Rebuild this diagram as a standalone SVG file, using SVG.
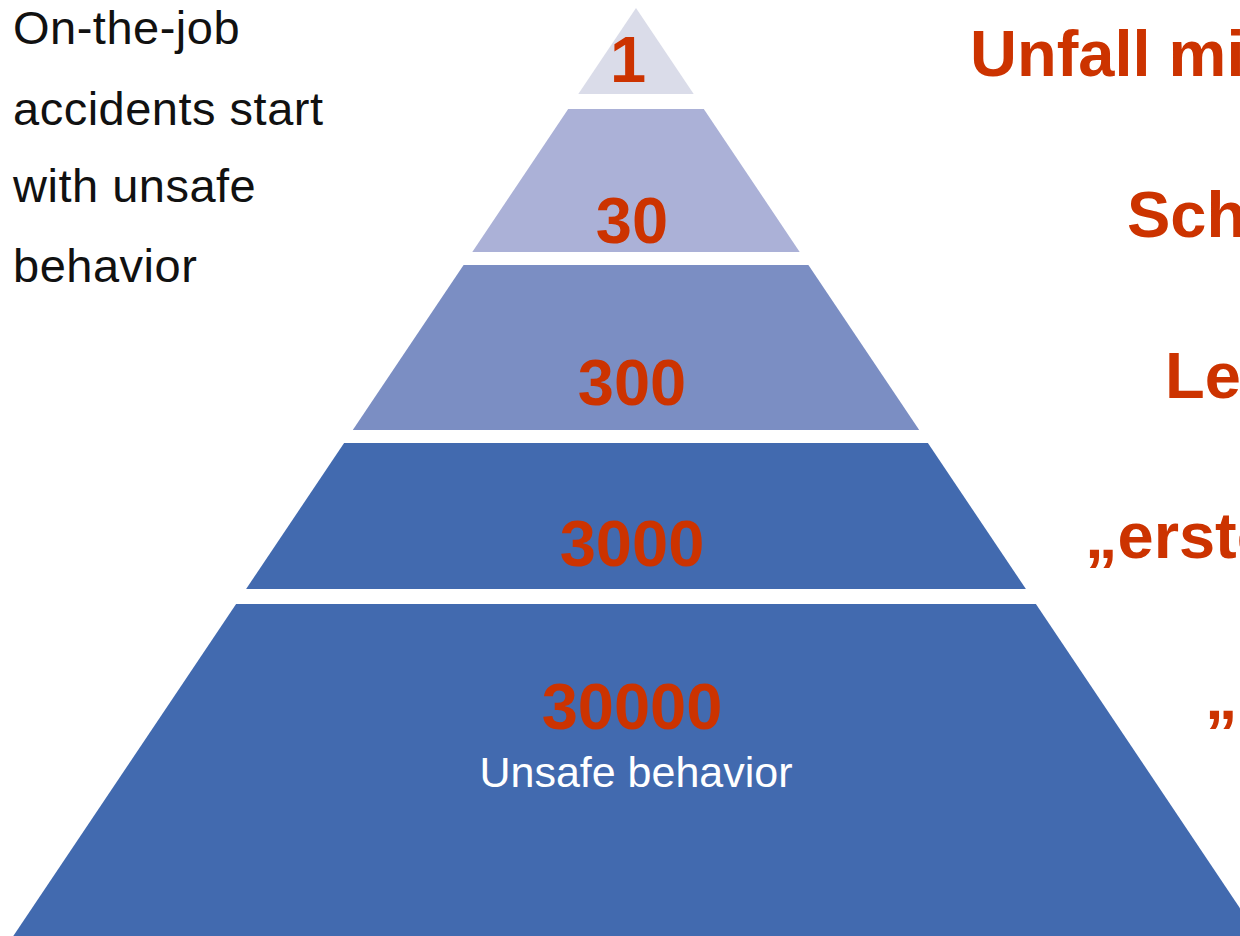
<svg xmlns="http://www.w3.org/2000/svg" width="1240" height="936" viewBox="0 0 1240 936">
  <style>
    .num { font-family: "Liberation Sans", Arial, sans-serif; font-weight: bold; font-size: 65px; fill: #cc3300; text-anchor: middle; }
    .lbl { font-family: "Liberation Sans", Arial, sans-serif; font-weight: bold; font-size: 65px; fill: #cc3300; }
    .note { font-family: "Liberation Sans", Arial, sans-serif; font-size: 47px; letter-spacing: 0.5px; fill: #111111; }
    .sub { font-family: "Liberation Sans", Arial, sans-serif; font-size: 43px; fill: #ffffff; text-anchor: middle; }
  </style>
  <rect width="1240" height="936" fill="#ffffff"/>

  <!-- caption on the left -->
  <g id="caption">
    <text class="note" x="13" y="44">On-the-job</text>
    <text class="note" x="13" y="125">accidents start</text>
    <text class="note" x="13" y="202">with unsafe</text>
    <text class="note" x="13" y="282">behavior</text>
  </g>

  <!-- pyramid tiers, top to bottom -->
  <g id="tier-1">
    <polygon points="636,8 693.7,94 578.3,94" fill="#dadce9"/>
    <text class="num" x="628" y="82">1</text>
  </g>
  <g id="tier-2">
    <polygon points="568.2,109 703.8,109 799.7,252 472.3,252" fill="#abb1d7"/>
    <text class="num" x="632" y="243">30</text>
  </g>
  <g id="tier-3">
    <polygon points="463.6,265 808.4,265 919.2,430 352.8,430" fill="#7b8ec3"/>
    <text class="num" x="632" y="405">300</text>
  </g>
  <g id="tier-4">
    <polygon points="344.1,443 927.9,443 1025.9,589 246.1,589" fill="#426aaf"/>
    <text class="num" x="632" y="566">3000</text>
  </g>
  <g id="tier-5">
    <polygon points="236.1,604 1035.9,604 1258.7,936 13.3,936" fill="#426aaf"/>
    <text class="num" x="632" y="729">30000</text>
    <text class="sub" x="636" y="787">Unsafe behavior</text>
  </g>

  <!-- tier descriptions on the right, running off the right edge -->
  <g id="labels">
    <text class="lbl" x="970" y="76">Unfall mi</text>
    <text class="lbl" x="1127" y="237">Sch</text>
    <text class="lbl" x="1165" y="398">Le</text>
    <text class="lbl" x="1085" y="558">„erste</text>
    <text class="lbl" x="1205" y="719">„</text>
  </g>
</svg>
